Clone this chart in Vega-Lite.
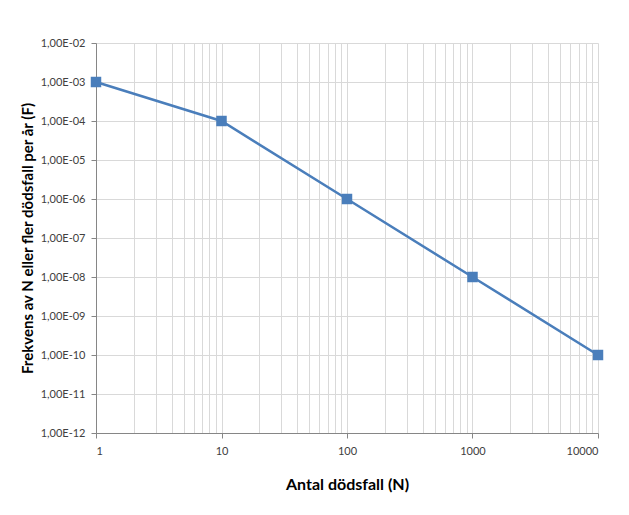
{
  "$schema": "https://vega.github.io/schema/vega-lite/v6.json",
  "width": 502,
  "height": 390,
  "autosize": "none",
  "padding": {"left": 96, "top": 43, "right": 31, "bottom": 82},
  "background": "white",
  "config": {
    "view": {"stroke": null},
    "font": "Lato",
    "axis": {"labelFont": "Lato", "titleFont": "Lato", "labelColor": "#404040", "titleColor": "#000000", "gridColor": "#d9d9d9", "domainColor": "#868686", "tickColor": "#868686", "labelFontSize": 11}
  },
  "data": {"values": [
    {"N": 1, "F": 1e-3},
    {"N": 10, "F": 1e-4},
    {"N": 100, "F": 1e-6},
    {"N": 1000, "F": 1e-8},
    {"N": 10000, "F": 1e-10}
  ]},
  "resolve": {"axis": {"x": "independent"}},
  "layer": [
    {
      "mark": {"type": "line", "color": "#4a7ebb", "strokeWidth": 2.5},
      "encoding": {
        "x": {"field": "N", "type": "quantitative", "scale": {"type": "log", "domain": [1, 10000], "nice": false},
          "axis": {"orient": "bottom", "values": [1,2,3,4,5,6,7,8,9,10,20,30,40,50,60,70,80,90,100,200,300,400,500,600,700,800,900,1000,2000,3000,4000,5000,6000,7000,8000,9000,10000],
            "grid": true, "labels": false, "ticks": false, "domain": false, "title": null}},
        "y": {"field": "F", "type": "quantitative", "scale": {"type": "log", "domain": [1e-12, 1e-2], "nice": false},
          "axis": {"values": [1e-12,1e-11,1e-10,1e-9,1e-8,1e-7,1e-6,1e-5,1e-4,1e-3,1e-2],
            "grid": true, "tickSize": 5, "labelPadding": 6,
            "labelExpr": "'1,00E-' + (round(-log(datum.value)/LN10) < 10 ? '0' : '') + round(-log(datum.value)/LN10)",
            "title": "Frekvens av N eller fler dödsfall per år (F)", "titleFontSize": 15, "titleFontWeight": "bold", "titlePadding": 5}}
      }
    },
    {
      "mark": {"type": "square", "color": "#4a7ebb", "size": 110, "opacity": 1, "filled": true},
      "encoding": {
        "x": {"field": "N", "type": "quantitative",
          "axis": {"orient": "bottom", "values": [1, 10, 100, 1000, 10000], "grid": false, "tickSize": 5, "labelPadding": 7, "format": "d",
            "title": "Antal dödsfall (N)", "titleFontSize": 16, "titleFontWeight": "bold", "titlePadding": 20}},
        "y": {"field": "F", "type": "quantitative"}
      }
    }
  ]
}
